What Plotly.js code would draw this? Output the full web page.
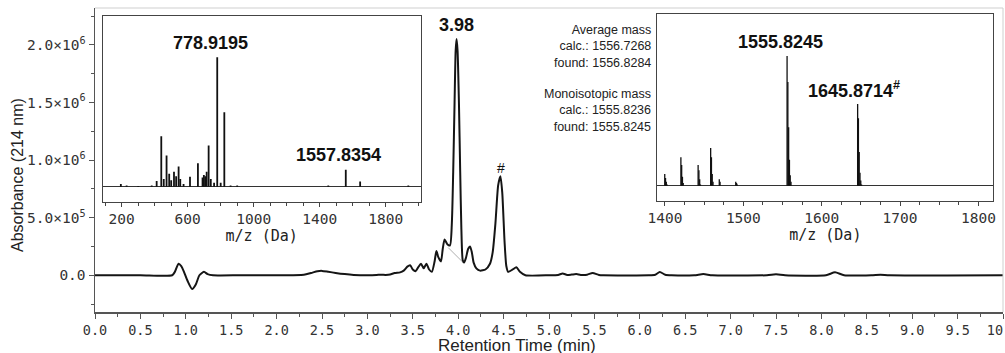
<!DOCTYPE html>
<html>
<head>
<meta charset="utf-8">
<script src="https://cdn.plot.ly/plotly-3.0.1.min.js"></script>
<style>html,body{margin:0;padding:0;background:#fff;overflow:hidden}#chart{width:1005px;height:353px}</style>
</head>
<body>
<div id="chart"></div>
<script>
// Chromatogram (retention time in min, absorbance at 214 nm)
const retentionTime = [0, 0.5, 0.85, 0.88, 0.92, 0.95, 0.98, 1.02, 1.07, 1.11, 1.15, 1.2, 1.24, 1.3, 1.6, 2.0, 2.3, 2.38, 2.45, 2.5, 2.57, 2.65, 2.75, 2.85, 3.0, 3.1, 3.15, 3.2, 3.25, 3.3, 3.36, 3.4, 3.44, 3.47, 3.5, 3.53, 3.56, 3.59, 3.62, 3.65, 3.68, 3.71, 3.74, 3.76, 3.78, 3.81, 3.83, 3.85, 3.88, 3.91, 3.93, 3.945, 3.96, 3.972, 3.982, 3.993, 4.008, 4.022, 4.035, 4.05, 4.065, 4.085, 4.11, 4.13, 4.15, 4.17, 4.2, 4.24, 4.3, 4.35, 4.38, 4.41, 4.44, 4.465, 4.485, 4.51, 4.53, 4.55, 4.6, 4.64, 4.68, 4.74, 5.0, 5.1, 5.15, 5.2, 5.25, 5.3, 5.35, 5.42, 5.48, 5.55, 5.6, 6.1, 6.17, 6.22, 6.28, 6.35, 6.6, 6.7, 6.8, 7.4, 7.5, 7.6, 8.05, 8.15, 8.25, 8.55, 8.65, 8.75, 10];
const absorbance = [0, 0, 0, 30000, 100000, 80000, 30000, -50000, -120000, -80000, 0, 30000, 10000, 0, 0, 0, 5000, 20000, 35000, 38000, 30000, 20000, 10000, 3000, 0, 2000, 5000, 3000, 6000, 20000, 25000, 40000, 75000, 87000, 50000, 35000, 70000, 100000, 60000, 100000, 50000, 30000, 120000, 210000, 160000, 120000, 230000, 310000, 270000, 260000, 450000, 900000, 1500000, 1950000, 2050000, 1950000, 1500000, 900000, 400000, 130000, 110000, 150000, 230000, 250000, 200000, 110000, 60000, 40000, 50000, 100000, 200000, 450000, 780000, 860000, 720000, 300000, 80000, 30000, 50000, 70000, 30000, 0, 0, 3000, 15000, 3000, 6000, 10000, 3000, 5000, 20000, 3000, 0, 0, 5000, 28000, 5000, 0, 0, 10000, 0, 0, 8000, 0, 0, 25000, 0, 0, 5000, 0, 0];
// Integration baseline drop
const dropTime = [3.89, 4.055];
const dropAbs = [240000, 110000];

// Inset 1: full MS spectrum (m/z, relative intensity)
const mz1 = [195, 230, 300, 382, 412, 440, 455, 472, 488, 500, 517, 530, 545, 555, 575, 614, 662, 690, 698, 706, 715, 727, 740, 760, 779, 800, 822, 860, 900, 1452, 1558, 1645, 1937];
const int1 = [2, 1, 0.5, 1, 4.4, 39, 6, 24, 10, 5, 11.6, 8, 15.5, 6, 2, 7.7, 18, 7, 9, 8, 11.6, 31.7, 6, 3, 100, 3, 57.5, 1, 1, 1, 13, 3.9, 1];

// Inset 2: deconvoluted spectrum (mass, relative intensity)
const mz2 = [1399.7, 1400.7, 1401.7, 1402.7, 1420.3, 1421.3, 1422.3, 1423.3, 1442.3, 1443.3, 1444.3, 1445.3, 1458.3, 1459.3, 1460.3, 1461.3, 1469.3, 1470.3, 1490.3, 1491.3, 1492.3, 1555.82, 1556.82, 1557.83, 1558.83, 1559.83, 1560.83, 1645.87, 1646.87, 1647.87, 1648.87, 1649.87, 1650.87];
const int2 = [9, 6, 3, 1, 22, 16, 7, 2, 16, 12, 5, 1, 29, 22, 9, 3, 5, 3, 3, 2, 1, 100, 80, 45, 20, 8, 3, 63, 52, 26, 10, 4, 1];

// Tick labels
const xTickVals = [0, 0.5, 1, 1.5, 2, 2.5, 3, 3.5, 4, 4.5, 5, 5.5, 6, 6.5, 7, 7.5, 8, 8.5, 9, 9.5, 10];
const yTickVals = [0, 500000, 1000000, 1500000, 2000000];
const yTickText = ['0.0', '5.0×10<sup>5</sup>', '1.0×10<sup>6</sup>', '1.5×10<sup>6</sup>', '2.0×10<sup>6</sup>'];
const inset1Ticks = [200, 600, 1000, 1400, 1800];
const inset2Ticks = [1400, 1500, 1600, 1700, 1800];

function sticks(mz, inten) {
  const x = [], y = [];
  for (let i = 0; i < mz.length; i++) { x.push(mz[i], mz[i], null); y.push(0, inten[i], null); }
  return {x, y};
}
const s1 = sticks(mz1, int1);
const s2 = sticks(mz2, int2);

const mono = 'DejaVu Sans Mono, monospace';
const sans = 'Liberation Sans, Arial, sans-serif';

const traces = [
  {x: dropTime, y: dropAbs, type: 'scatter', mode: 'lines', line: {color: '#9a9a9a', width: 0.8}, hoverinfo: 'skip', xaxis: 'x', yaxis: 'y'},
  {x: retentionTime, y: absorbance, type: 'scatter', mode: 'lines', line: {color: '#151515', width: 2, shape: 'spline', smoothing: 0.6}, xaxis: 'x', yaxis: 'y'},
  {x: s1.x, y: s1.y, type: 'scatter', mode: 'lines', line: {color: '#111', width: 1.8}, xaxis: 'x2', yaxis: 'y2'},
  {x: s2.x, y: s2.y, type: 'scatter', mode: 'lines', line: {color: '#111', width: 1.3}, xaxis: 'x3', yaxis: 'y3'}
];

const W = 908, H = 304, L = 95, T = 8;
function px(xp) { return (xp - L) / W; }
function py(yp) { return (T + H - yp) / H; }

const layout = {
  width: 1005, height: 353,
  margin: {l: L, r: 2, t: T, b: 41},
  paper_bgcolor: '#fff', plot_bgcolor: 'rgba(0,0,0,0)',
  showlegend: false,
  font: {family: sans, color: '#222'},
  xaxis: {
    range: [0, 10], tickvals: xTickVals, tickformat: '.1f', ticklabeloverflow: 'allow',
    ticks: 'outside', ticklen: 5, tickcolor: '#555', tickwidth: 1,
    minor: {dtick: 0.25, tick0: 0, ticks: 'outside', ticklen: 3, tickcolor: '#555'},
    showline: true, linecolor: '#555', linewidth: 1.5, showgrid: false, zeroline: false,
    tickfont: {family: mono, size: 13.5, color: '#333'}
  },
  yaxis: {
    range: [-319000, 2320000], tickvals: yTickVals, ticktext: yTickText,
    ticks: 'outside', ticklen: 5, tickcolor: '#555',
    minor: {dtick: 250000, tick0: 0, ticks: 'outside', ticklen: 3, tickcolor: '#555'},
    showline: true, linecolor: '#555', linewidth: 1.5, showgrid: false, zeroline: false,
    tickfont: {family: mono, size: 14.5, color: '#333'}
  },
  xaxis2: {
    domain: [px(102.7), px(420.7)], anchor: 'y2', range: [85, 2012],
    tickvals: inset1Ticks, ticks: 'outside', ticklen: 4, tickcolor: '#444',
    minor: {dtick: 100, tick0: 0, ticks: 'outside', ticklen: 3, tickcolor: '#444'},
    showline: true, mirror: true, linecolor: '#444', linewidth: 1, showgrid: false, zeroline: false,
    tickfont: {family: mono, size: 14.5, color: '#333'},
    title: {text: 'm/z (Da)', font: {family: mono, size: 15, color: '#222'}, standoff: 4}
  },
  yaxis2: {
    domain: [py(201.7), py(15.7)], anchor: 'x2', range: [-11.6, 132],
    showticklabels: false, ticks: '', showgrid: false,
    showline: true, mirror: true, linecolor: '#444', linewidth: 1,
    zeroline: true, zerolinecolor: '#333', zerolinewidth: 1.3
  },
  xaxis3: {
    domain: [px(657.3), px(993.3)], anchor: 'y3', range: [1390.2, 1819],
    tickvals: inset2Ticks, ticks: 'outside', ticklen: 4, tickcolor: '#444',
    minor: {dtick: 25, tick0: 0, ticks: 'outside', ticklen: 3, tickcolor: '#444'},
    showline: true, mirror: true, linecolor: '#444', linewidth: 1, showgrid: false, zeroline: false,
    tickfont: {family: mono, size: 14.5, color: '#333'},
    title: {text: 'm/z (Da)', font: {family: mono, size: 15, color: '#222'}, standoff: 4}
  },
  yaxis3: {
    domain: [py(201), py(14.3)], anchor: 'x3', range: [-11.8, 132.2],
    showticklabels: false, ticks: '', showgrid: false,
    showline: true, mirror: true, linecolor: '#444', linewidth: 1,
    zeroline: true, zerolinecolor: '#333', zerolinewidth: 1.3
  },
  shapes: [
    {type: 'line', xref: 'paper', yref: 'paper', x0: 0, x1: 1, y0: 1, y1: 1, line: {color: '#cfcfcf', width: 1}},
    {type: 'line', xref: 'paper', yref: 'paper', x0: 1, x1: 1, y0: 0, y1: 1, line: {color: '#cfcfcf', width: 1}}
  ],
  annotations: [
    {text: 'Retention Time (min)', xref: 'paper', yref: 'paper', x: px(516.7), y: py(345.5), xanchor: 'center', yanchor: 'middle', showarrow: false, font: {family: sans, size: 17, color: '#222'}},
    {text: 'Absorbance (214 nm)', xref: 'paper', yref: 'paper', x: px(17), y: py(175), xanchor: 'center', yanchor: 'middle', textangle: -90, showarrow: false, font: {family: sans, size: 16, color: '#222'}},
    {text: '<b>3.98</b>', xref: 'x', yref: 'y', x: 3.98, y: 2174000, xanchor: 'center', yanchor: 'middle', showarrow: false, font: {family: sans, size: 18, color: '#111'}},
    {text: '#', xref: 'x', yref: 'y', x: 4.47, y: 930000, xanchor: 'center', yanchor: 'middle', showarrow: false, font: {family: sans, size: 14, color: '#111'}},
    {text: '<b>778.9195</b>', xref: 'x2', yref: 'y2', x: 741, y: 111, xanchor: 'center', yanchor: 'middle', showarrow: false, font: {family: sans, size: 18, color: '#111'}},
    {text: '<b>1557.8354</b>', xref: 'x2', yref: 'y2', x: 1511, y: 24.5, xanchor: 'center', yanchor: 'middle', showarrow: false, font: {family: sans, size: 18, color: '#111'}},
    {text: '<b>1555.8245</b>', xref: 'x3', yref: 'y3', x: 1548, y: 111, xanchor: 'center', yanchor: 'middle', showarrow: false, font: {family: sans, size: 18, color: '#111'}},
    {text: '<b>1645.8714<sup>#</sup></b>', xref: 'x3', yref: 'y3', x: 1641, y: 74, xanchor: 'center', yanchor: 'middle', showarrow: false, font: {family: sans, size: 18, color: '#111'}},
    {text: 'Average mass<br>calc.: 1556.7268<br>found: 1556.8284', xref: 'paper', yref: 'paper', x: px(653), y: py(46), xanchor: 'right', yanchor: 'middle', align: 'right', showarrow: false, font: {family: sans, size: 12.5, color: '#222'}},
    {text: 'Monoisotopic mass<br>calc.: 1555.8236<br>found: 1555.8245', xref: 'paper', yref: 'paper', x: px(653), y: py(111), xanchor: 'right', yanchor: 'middle', align: 'right', showarrow: false, font: {family: sans, size: 12.5, color: '#222'}}
  ]
};

Plotly.newPlot('chart', traces, layout, {staticPlot: true, displayModeBar: false});
</script>
</body>
</html>
